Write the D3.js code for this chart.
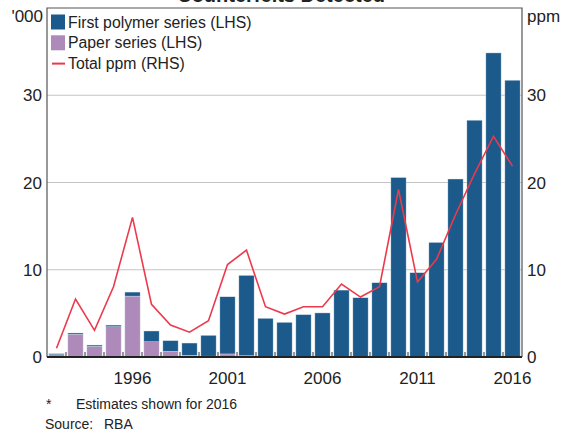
<!DOCTYPE html>
<html>
<head>
<meta charset="utf-8">
<script src="https://cdn.jsdelivr.net/npm/d3@7"></script>
<style>
  html, body { margin: 0; padding: 0; background: #fff; }
  svg { display: block; font-family: Arial, "Liberation Sans", Helvetica, sans-serif; }
</style>
</head>
<body>
<svg id="chart" width="568" height="434"></svg>
<script>
// Counterfeits detected per year, '000 (stacked) and total parts per million
const years = d3.range(1992, 2017);
const paperSeries = [0.26, 2.6, 1.22, 3.47, 6.98, 1.75, 0.65, 0.19, 0.1, 0.35, 0.15, 0, 0, 0, 0, 0, 0, 0, 0, 0, 0, 0, 0, 0, 0];
const polymerSeries = [0.12, 0.15, 0.15, 0.19, 0.46, 1.23, 1.22, 1.41, 2.38, 6.55, 9.2, 4.43, 3.97, 4.85, 5.05, 7.67, 6.79, 8.51, 20.57, 9.66, 13.13, 20.4, 27.14, 34.85, 31.72];
const totalPpm = [1.0, 6.64, 3.05, 8.05, 16.0, 6.03, 3.66, 2.85, 4.16, 10.6, 12.25, 5.76, 4.92, 5.76, 5.76, 8.36, 6.87, 8.05, 19.2, 8.59, 11.19, 16.3, 21.0, 25.3, 21.87];
const yTicks = [0, 10, 20, 30];
const xLabelYears = [1996, 2001, 2006, 2011, 2016];

const colors = { polymer: "#1b5a8b", paper: "#ad8aba", ppm: "#ec3a4c", grid: "#c4c4c4", frame: "#555" };

const svg = d3.select("#chart");
const m = { left: 47, right: 522, top: 8, bottom: 357 };

const x = d3.scaleBand().domain(years).range([m.left, m.right]).paddingInner(0.2).paddingOuter(0.1);
const xStep = d3.scaleBand().domain(years).range([m.left, m.right]);
const yL = d3.scaleLinear().domain([0, 40]).range([m.bottom, m.top]);
const yR = d3.scaleLinear().domain([0, 40]).range([m.bottom, m.top]);

// title, running off the top edge of the canvas
svg.append("text").attr("x", 285).attr("y", 1.5).attr("text-anchor", "middle")
  .attr("font-size", 20).attr("font-weight", "bold").attr("fill", "#222")
  .text("Counterfeits Detected*");

// gridlines
svg.append("g").selectAll("line").data(yTicks.filter(d => d > 0)).join("line")
  .attr("x1", m.left).attr("x2", m.right)
  .attr("y1", d => yL(d)).attr("y2", d => yL(d))
  .attr("stroke", colors.grid).attr("stroke-width", 1.2);

// stacked bars
const rows = years.map((yr, i) => ({ year: yr, paper: paperSeries[i], polymer: polymerSeries[i] }));
const stack = d3.stack().keys(["paper", "polymer"])(rows);
const fills = { paper: colors.paper, polymer: colors.polymer };
svg.append("g").selectAll("g").data(stack).join("g")
  .attr("fill", d => fills[d.key])
  .selectAll("rect").data(d => d).join("rect")
  .attr("x", d => x(d.data.year))
  .attr("width", x.bandwidth())
  .attr("y", d => yL(d[1]))
  .attr("height", d => Math.max(0, yL(d[0]) - yL(d[1])))
  .attr("stroke", "#d6e0ea").attr("stroke-width", 0.4);

// small ticks at category boundaries
svg.append("g").selectAll("line").data(years.slice(1)).join("line")
  .attr("x1", d => xStep(d)).attr("x2", d => xStep(d))
  .attr("y1", m.bottom - 5).attr("y2", m.bottom)
  .attr("stroke", "#777").attr("stroke-width", 1.5);

// total ppm line
const line = d3.line().x((d, i) => x(years[i]) + x.bandwidth() / 2).y(d => yR(d));
svg.append("path").datum(totalPpm).attr("d", line)
  .attr("fill", "none").attr("stroke", colors.ppm).attr("stroke-width", 1.6).attr("stroke-linejoin", "miter");

// frame
svg.append("path")
  .attr("d", `M${m.left},${m.bottom}V${m.top}H${m.right}V${m.bottom}`)
  .attr("fill", "none").attr("stroke", colors.frame).attr("stroke-width", 1.2);
svg.append("line").attr("x1", m.left).attr("x2", m.right).attr("y1", m.bottom).attr("y2", m.bottom)
  .attr("stroke", "#222").attr("stroke-width", 2);

// axis labels
const lab = svg.append("g").attr("font-size", 17).attr("fill", "#222");
lab.selectAll(".yl").data(yTicks).join("text").attr("class", "yl")
  .attr("x", 42).attr("y", d => yL(d)).attr("dy", "0.36em").attr("text-anchor", "end").text(d => d);
lab.selectAll(".yr").data(yTicks).join("text").attr("class", "yr")
  .attr("x", 527).attr("y", d => yR(d)).attr("dy", "0.36em").attr("text-anchor", "start").text(d => d);
lab.selectAll(".xl").data(xLabelYears).join("text").attr("class", "xl")
  .attr("x", d => x(d) + x.bandwidth() / 2).attr("y", 384).attr("text-anchor", "middle").text(d => d);
lab.append("text").attr("x", 43).attr("y", 22).attr("text-anchor", "end").text("'000");
lab.append("text").attr("x", 527).attr("y", 22).attr("text-anchor", "start").text("ppm");

// legend
const legendItems = [
  { label: "First polymer series (LHS)", color: colors.polymer, type: "box" },
  { label: "Paper series (LHS)", color: colors.paper, type: "box" },
  { label: "Total ppm (RHS)", color: colors.ppm, type: "line" }
];
const lg = svg.append("g");
legendItems.forEach((d, i) => {
  const cy = 22 + i * 20.8;
  if (d.type === "box") {
    lg.append("rect").attr("x", 51).attr("y", cy - 7.5).attr("width", 14).attr("height", 15).attr("fill", d.color);
  } else {
    lg.append("line").attr("x1", 52).attr("x2", 65).attr("y1", cy).attr("y2", cy)
      .attr("stroke", d.color).attr("stroke-width", 2);
  }
  lg.append("text").attr("x", 68).attr("y", cy).attr("dy", "0.36em")
    .attr("font-size", 15.8).attr("fill", "#222").text(d.label);
});

// notes
const notes = svg.append("g").attr("font-size", 14).attr("fill", "#222");
notes.append("text").attr("x", 46).attr("y", 409).text("*");
notes.append("text").attr("x", 76).attr("y", 409).text("Estimates shown for 2016");
notes.append("text").attr("x", 45).attr("y", 429).text("Source:");
notes.append("text").attr("x", 104).attr("y", 429).text("RBA");
</script>
</body>
</html>
